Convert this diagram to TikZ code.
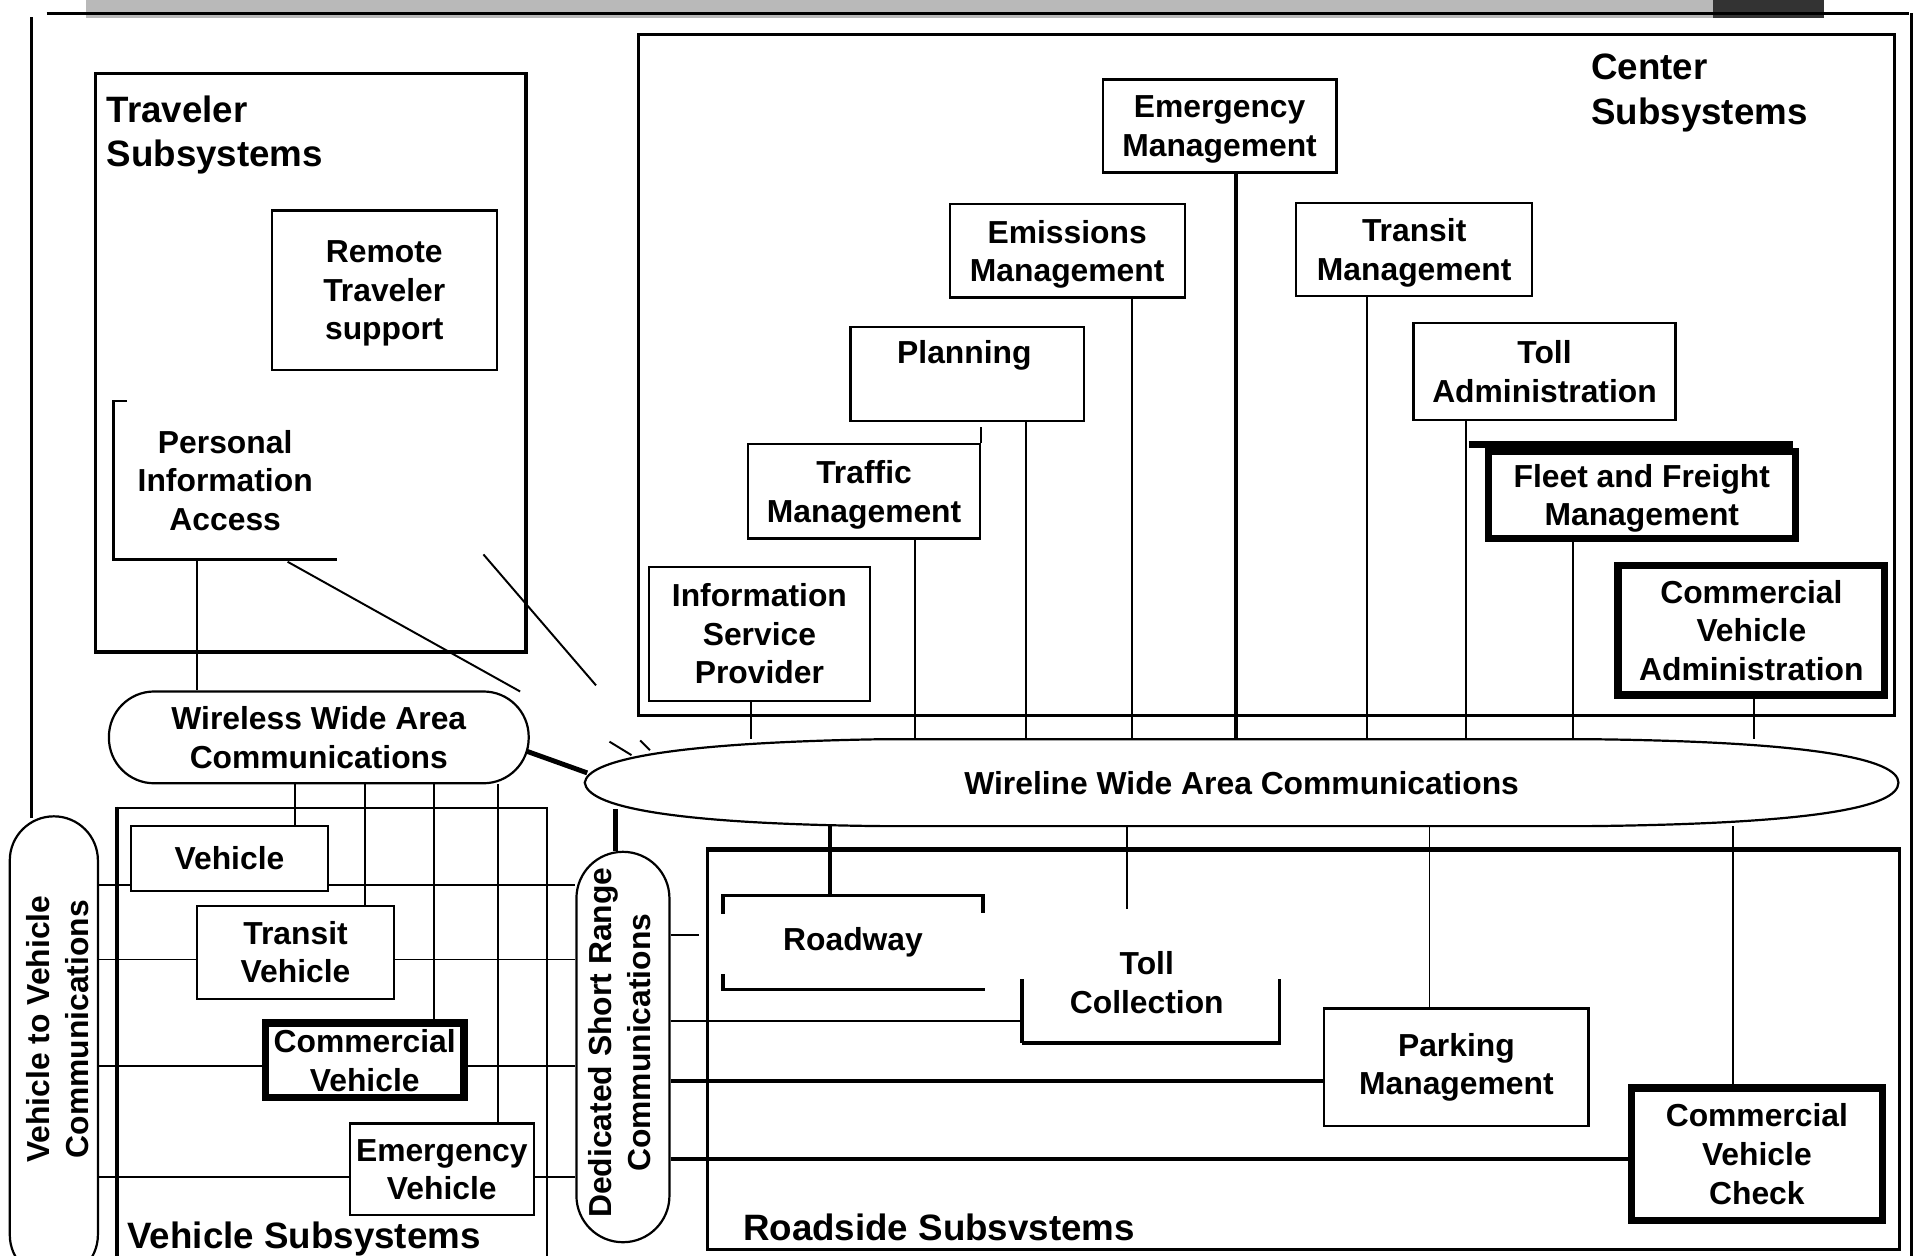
\documentclass[tikz,border=0pt]{standalone}
\usepackage{fontspec}
\setmainfont{Liberation Sans}
\usetikzlibrary{calc}
\newcommand\boxfont{\fontsize{26}{31.5}\selectfont\bfseries}
\newcommand\titlefont{\fontsize{30}{36}\selectfont\bfseries}
\begin{document}
\begin{tikzpicture}[x=1pt,y=-1pt,
  box/.style={draw, line width=1.8pt, inner sep=0pt, align=center, font=\boxfont},
  heavybox/.style={box, line width=6pt},
  plain/.style={inner sep=0pt, align=center, font=\boxfont},
  flat/.style={text depth=0pt},
  title/.style={inner sep=0pt, align=left, font=\titlefont, anchor=west},
  area/.style={draw, line width=2.4pt, inner sep=0pt},
  capsule/.style={draw, line width=1.8pt, inner sep=0pt, align=center, font=\boxfont},
  link/.style={line width=1.6pt},
  thicklink/.style={line width=3pt},
  frameline/.style={line width=2.2pt},
]
\useasboundingbox (0,0) rectangle (1568,1026);
\fill[white] (0,0) rectangle (1568,1026);
\clip (0,0) rectangle (1568,1026);

% header band and outer frame
\fill[gray!55] (70,0) rectangle (1490,15);
\fill[black!80] (1400,0) rectangle (1490,15);
\draw[frameline] (38,11) -- (1560,11);
\draw[frameline] (1562,11) -- (1562,1026);
\draw[frameline] (26,14) -- (26,668);

% ---------------- Traveler subsystems ----------------
\node[area, line width=3pt, minimum width=352pt, minimum height=473pt] (trav) at (254,296.5) {};
\node[title] (travtitle) at (87,110) {Traveler\\Subsystems};
\node[box, flat, minimum width=184pt, minimum height=130pt] (rts) at (314,237) {Remote\\Traveler\\support};
\node[plain, minimum width=182pt, minimum height=129pt] (pia) at (184,392.5) {Personal\\Information\\Access};
\draw[line width=2pt] ($(pia.north west)+(11,0)$) -- (pia.north west) -- (pia.south west) -- (pia.south east);

% ---------------- Center subsystems ----------------
\node[area, minimum width=1026pt, minimum height=557pt] (csub) at (1035,306.5) {};
\node[title] (ctitle) at (1300,76) {Center\\Subsystems};
\node[box, flat, minimum width=191pt, minimum height=76pt] (em) at (996.5,103) {Emergency\\Management};
\node[box, flat, minimum width=192pt, minimum height=76pt] (emi) at (872,205) {Emissions\\Management};
\node[box, flat, minimum width=193pt, minimum height=76pt] (tm) at (1155.5,204) {Transit\\Management};
\node[box, minimum width=191pt, minimum height=77pt] (plan) at (790.5,305.5) {};
\node[plain] (plantext) at (788,290) {Planning};
\node[box, minimum width=214pt, minimum height=79pt] (ta) at (1262,303.5) {Toll\\Administration};
\node[box, flat, minimum width=190pt, minimum height=77pt] (traf) at (706,401.5) {Traffic\\Management};
\draw[link] (traf.north east) -- ++(0,-13);
\node[heavybox, flat, minimum width=251pt, minimum height=71pt] (ffm) at (1341.5,404.5) {Fleet and Freight\\Management};
\draw[line width=6pt] ($(ffm.north west)+(-13,-3)$) -- ($(ffm.north east)+(-5,-3)$);
\node[heavybox, minimum width=218pt, minimum height=106pt] (cva) at (1431,515) {Commercial\\Vehicle\\Administration};
\node[box, minimum width=181pt, minimum height=110pt] (isp) at (620.5,518) {Information\\Service\\Provider};

% ---------------- Wireline backbone ----------------
\node[plain, minimum width=1073pt, minimum height=71pt] (wl) at (1014.5,639.5) {Wireline Wide Area Communications};
\draw[line width=1.8pt] (wl.west)
  .. controls (480,622) and (540,607) .. (720,604) -- (1300,604)
  .. controls (1480,606) and (1551,620) .. (wl.east)
  .. controls (1551,660) and (1480,673) .. (1300,675) -- (720,675)
  .. controls (540,673) and (480,658) .. (wl.west) -- cycle;

% center subsystems down to the wireline
\draw[link] ([xshift=-6.5pt]isp.south) coordinate (t) -- (t |- wl.north);
\draw[link] ([xshift=42pt]traf.south) coordinate (t) -- (t |- wl.north);
\draw[link] ([xshift=47.5pt]plan.south) coordinate (t) -- (t |- wl.north);
\draw[link] ([xshift=53pt]emi.south) coordinate (t) -- (t |- wl.north);
\draw[thicklink] ([xshift=13.5pt]em.south) coordinate (t) -- (t |- wl.north);
\draw[link] ([xshift=-38.5pt]tm.south) coordinate (t) -- (t |- wl.north);
\draw[link] ([xshift=-64pt]ta.south) coordinate (t) -- (t |- wl.north);
\draw[link] ([xshift=-56.5pt]ffm.south) coordinate (t) -- (t |- wl.north);
\draw[link] ([xshift=2pt]cva.south) coordinate (t) -- (t |- wl.north);

% ---------------- Wireless wide area ----------------
\node[capsule, rounded corners=37pt, minimum width=343pt, minimum height=75pt] (ww) at (260.5,602.5) {Wireless Wide Area\\Communications};
\draw[link] ([xshift=-23pt]pia.south) coordinate (t) -- (t |- ww.north);
\draw[link] (235,459) -- (425,565);
\draw[link] (498,606) -- (516,617);
\draw[link] (395,453) -- (487,560);
\draw[link] (523,605) -- (531,613);
\draw[line width=4pt] ($(ww.east)+(-2,11.5)$) -- ($(wl.west)+(2,-8)$);

% ---------------- Vehicle subsystems ----------------
\node[area, line width=2pt, minimum width=351pt, minimum height=380pt] (vsub) at (271.5,850) {};
\draw[line width=2.6pt] (vsub.north west) -- (vsub.south west);
\node[title] (vtitle) at (104,1012) {Vehicle Subsystems};
\node[box, minimum width=161pt, minimum height=53pt] (veh) at (187.5,701.5) {Vehicle};
\node[box, minimum width=161pt, minimum height=76pt] (tv) at (241.5,778) {Transit\\Vehicle};
\node[heavybox, minimum width=162pt, minimum height=61pt] (cv) at (298,866.5) {Commercial\\Vehicle};
\node[box, flat, minimum width=150pt, minimum height=75pt] (ev) at (361,955.5) {Emergency\\Vehicle};

\node[capsule, rounded corners=36pt, minimum width=72pt, minimum height=378pt] (v2v) at (44,856) {};
\node[plain, rotate=90] (v2vtext) at (47,841) {Vehicle to Vehicle\\Communications};
\node[capsule, rounded corners=38pt, minimum width=76pt, minimum height=319pt] (dsrc) at (509,855.5) {};
\node[plain, rotate=90] (dsrctext) at (506.5,852) {Dedicated Short Range\\Communications};

% wireless links into the vehicles
\draw[link] ([xshift=53.5pt]veh.north) coordinate (t) -- (t |- ww.south);
\draw[link] ([xshift=56.5pt]tv.north) coordinate (t) -- (t |- ww.south);
\draw[link] ([xshift=57pt]cv.north) coordinate (t) -- (t |- ww.south);
\draw[link] ([xshift=46pt]ev.north) coordinate (t) -- (t |- ww.south);

% vehicle-to-vehicle and short range links
\draw[link] ([yshift=-21.5pt]veh.west) coordinate (t) -- (t -| v2v.east);
\draw[link] ([yshift=-21.5pt]veh.east) coordinate (t) -- (t -| dsrc.west);
\draw[link] ([yshift=-6pt]tv.west) coordinate (t) -- (t -| v2v.east);
\draw[link] ([yshift=-6pt]tv.east) coordinate (t) -- (t -| dsrc.west);
\draw[link] ([yshift=-4.5pt]cv.west) coordinate (t) -- (t -| v2v.east);
\draw[link] ([yshift=-4.5pt]cv.east) coordinate (t) -- (t -| dsrc.west);
\draw[link] ([yshift=-6.5pt]ev.west) coordinate (t) -- (t -| v2v.east);
\draw[link] ([yshift=-6.5pt]ev.east) coordinate (t) -- (t -| dsrc.west);

\draw[line width=4pt] ([xshift=-6pt]dsrc.north) -- ++(0,-34);

% ---------------- Roadside subsystems ----------------
\node[area, minimum width=974pt, minimum height=326pt] (rsub) at (1065,858) {};
\draw[line width=3.2pt] (rsub.north west) -- (rsub.north east);
\node[title] (rtitle) at (607,1003) {Roadside Subsvstems};

\node[plain, minimum width=212pt, minimum height=76pt] (rw) at (697,770) {Roadway};
\draw[thicklink] ($(rw.north west)+(0,15)$) -- (rw.north west) -- (rw.north east) -- ++(0,14);
\draw[line width=2.6pt] ($(rw.south west)+(0,-12)$) -- (rw.south west) -- ($(rw.south east)+(2,0)$);

\node[plain, minimum width=210pt, minimum height=80pt] (tc) at (940,812) {};
\node[plain] (tctext) at (937,803) {Toll\\Collection};
\draw[thicklink] ($(tc.south west)+(0,-52)$) -- (tc.south west);
\draw[line width=2.6pt] (tc.south west) -- (tc.south east) -- ++(0,-52);

\node[box, minimum width=216pt, minimum height=96pt] (pm) at (1190,872) {Parking\\Management};
\node[heavybox, minimum width=205pt, minimum height=108pt] (cvc) at (1435.5,943) {Commercial\\Vehicle\\Check};

% wireline down to the roadside
\draw[thicklink] ([xshift=-19pt]rw.north) coordinate (t) -- (t |- wl.south);
\draw[link] ([xshift=-19pt,yshift=29pt]tc.north) coordinate (t) -- (t |- wl.south);
\draw[link] ([xshift=-22pt]pm.north) coordinate (t) -- (t |- wl.south);
\draw[link] ([xshift=-19.5pt]cvc.north) coordinate (t) -- (t |- wl.south);

% short range links into the roadside
\draw[link] ([yshift=91.5pt]dsrc.east) -- ++(23,0);
\draw[link] ([yshift=21.5pt]dsrc.east) coordinate (t) -- (t -| tc.west);
\draw[thicklink] ([yshift=-27.5pt]dsrc.east) coordinate (t) -- (t -| pm.west);
\draw[thicklink] ([yshift=-91.5pt]dsrc.east) coordinate (t) -- (t -| cvc.west);
\end{tikzpicture}
\end{document}
